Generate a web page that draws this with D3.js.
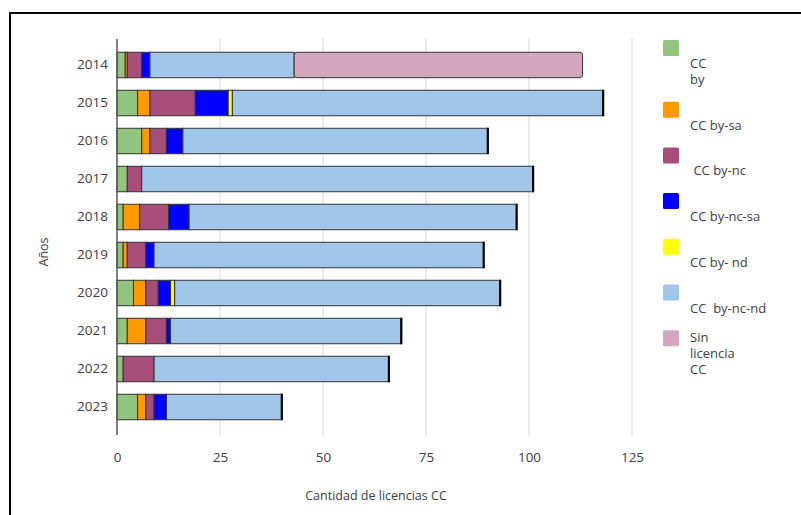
<!DOCTYPE html>
<html>
<head>
<meta charset="utf-8">
<script src="https://cdn.jsdelivr.net/npm/d3@7/dist/d3.min.js"></script>
<style>
  html, body { margin: 0; padding: 0; background: #fff; }
  svg { display: block; }
  text { font-family: "Open Sans", sans-serif; fill: #404040; white-space: pre; }
</style>
</head>
<body>
<svg id="chart" width="801" height="515"></svg>
<script>
// Years on the vertical axis
const years = ["2014", "2015", "2016", "2017", "2018", "2019", "2020", "2021", "2022", "2023"];

// License types, in stacking order
const licenses = ["CC by", "CC by-sa", "CC by-nc", "CC by-nc-sa", "CC by-nd", "CC by-nc-nd", "Sin licencia CC"];
const legendLabels = [["CC", "by"], ["CC by-sa"], [" CC by-nc"], ["CC by-nc-sa"], ["CC by- nd"], ["CC  by-nc-nd"], ["Sin", "licencia", "CC"]];
const colors = ["#93c47d", "#ff9900", "#a64d79", "#0000ff", "#ffff00", "#9fc5e8", "#d5a6bd"];

// Counts per license type, one value per year
const ccBy      = [2,   5,  6,  2.5, 1.5, 1.5, 4,  2.5, 1.5, 5];
const ccBySa    = [0.5, 3,  2,  0,   4,   1,   3,  4.5, 0,   2];
const ccByNc    = [3.5, 11, 4,  3.5, 7,   4.5, 3,  5,   7.5, 2];
const ccByNcSa  = [2,   8,  4,  0,   5,   2,   3,  1,   0,   3];
const ccByNd    = [0,   1,  0,  0,   0,   0,   1,  0,   0,   0];
const ccByNcNd  = [35,  90, 74, 95,  79.5, 80, 79, 56,  57,  28];
const sinLic    = [70,  0,  0,  0,   0,   0,   0,  0,   0,   0];

const xTicks = [0, 25, 50, 75, 100, 125];

const series = [ccBy, ccBySa, ccByNc, ccByNcSa, ccByNd, ccByNcNd, sinLic];
const rows = years.map((y, i) => {
  const r = { year: y };
  licenses.forEach((k, j) => r[k] = series[j][i]);
  return r;
});

const svg = d3.select("#chart");

// outer frame
svg.append("path")
  .attr("d", "M10,515 V13 H801")
  .attr("fill", "none").attr("stroke", "#000").attr("stroke-width", 2);

const x = d3.scaleLinear().domain([0, 125]).range([117, 632]);
const y = d3.scaleBand().domain(years).range([46, 426]).paddingInner(0.33).paddingOuter(0.165);

// vertical gridlines
svg.append("g").selectAll("line").data(xTicks.filter(t => t > 0)).join("line")
  .attr("x1", d => x(d)).attr("x2", d => x(d))
  .attr("y1", 38).attr("y2", 436)
  .attr("stroke", "#d9d9d9").attr("stroke-width", 1);

// x axis tick labels
const xAxis = d3.axisBottom(x).tickValues(xTicks).tickSize(0).tickPadding(0);
const gx = svg.append("g").attr("transform", "translate(0,458)").call(xAxis);
gx.select(".domain").remove();
gx.selectAll("text").attr("font-size", 13.5).attr("fill", "#404040").attr("dy", "0.32em")
  .style("font-family", "'Open Sans', sans-serif");

// stacked bars
const stack = d3.stack().keys(licenses);
const stacked = stack(rows);

const layers = svg.append("g").selectAll("g").data(stacked).join("g")
  .attr("fill", (d, i) => colors[i]);

layers.each(function(layer, li) {
  d3.select(this).selectAll("rect")
    .data(layer.filter(d => d[1] - d[0] > 0))
    .join("rect")
    .attr("x", d => x(d[0]))
    .attr("y", d => y(d.data.year))
    .attr("width", d => x(d[1]) - x(d[0]))
    .attr("height", y.bandwidth())
    .attr("rx", li === licenses.length - 1 ? 3 : 0)
    .attr("stroke", "#333")
    .attr("stroke-width", 1);
});

// heavier edge at the end of bars that finish with the by-nc-nd segment
const totals = rows.map(r => ({ year: r.year, total: d3.sum(licenses, k => r[k]), last: r["Sin licencia CC"] }));
svg.append("g").selectAll("line").data(totals.filter(d => d.last === 0)).join("line")
  .attr("x1", d => x(d.total)).attr("x2", d => x(d.total))
  .attr("y1", d => y(d.year) - 0.5).attr("y2", d => y(d.year) + y.bandwidth() + 0.5)
  .attr("stroke", "#000").attr("stroke-width", 2.2);

// y axis
const yAxis = d3.axisLeft(y).tickSize(0).tickPadding(9);
const gy = svg.append("g").attr("transform", "translate(117,0)").call(yAxis);
gy.select(".domain").remove();
gy.selectAll("text").attr("font-size", 13.5).attr("fill", "#404040")
  .style("font-family", "'Open Sans', sans-serif");

svg.append("line").attr("x1", 117).attr("x2", 117).attr("y1", 39).attr("y2", 435)
  .attr("stroke", "#595959").attr("stroke-width", 1.5);

// axis titles
svg.append("text").attr("x", 376).attr("y", 496).attr("dy", "0.35em")
  .attr("text-anchor", "middle").attr("font-size", 12.5).text("Cantidad de licencias CC");
svg.append("text").attr("transform", "translate(44,252) rotate(-90)").attr("dy", "0.35em")
  .attr("text-anchor", "middle").attr("font-size", 12.5).text("Años");

// legend: swatch on top, label below it; a label of three lines starts beside the swatch
const lineH = 16;
const itemGap = 45.7;
let cursor = 40;
const legendPos = legendLabels.map(lines => {
  const above = lines.length > 2 ? 1 : 0;
  const below = lines.length - 1 - above;
  const top = cursor;
  cursor += itemGap + below * lineH;
  return { lines, top, above };
});

const legend = svg.append("g").attr("transform", "translate(663,0)");
const item = legend.selectAll("g").data(legendPos).join("g")
  .attr("transform", d => `translate(0,${d.top})`);
item.append("rect").attr("width", 16).attr("height", 16).attr("rx", 1.5)
  .attr("fill", (d, i) => colors[i]);
item.each(function(d) {
  d3.select(this).selectAll("text").data(d.lines).join("text")
    .attr("x", 27).attr("y", (t, k) => 23.5 + (k - d.above) * lineH).attr("dy", "0.35em")
    .attr("font-size", 13).text(t => t);
});
</script>
</body>
</html>
